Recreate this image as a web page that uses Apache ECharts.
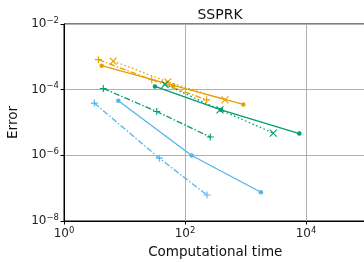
<!DOCTYPE html>
<html>
<head>
<meta charset="utf-8">
<script src="https://cdn.jsdelivr.net/npm/echarts@6/dist/echarts.min.js"></script>
<style>
  html, body { margin: 0; padding: 0; background: #fff; }
  #chart { width: 364px; height: 262px; }
</style>
</head>
<body>
<div id="chart"></div>
<script>
// SSPRK convergence: error vs computational time, [time, error] pairs
const orangeDot   = [[4.2, 5.36e-4], [64, 1.34e-4], [920, 3.54e-5]];
const orangePlus  = [[3.7, 8.2e-4], [28.2, 2.0e-4], [228, 4.9e-5]];
const orangeCross = [[6.5, 7.4e-4], [52, 1.74e-4], [458, 4.9e-5]];
const greenDot    = [[31.9, 1.25e-4], [394, 2.44e-5], [7750, 4.6e-6]];
const greenPlus   = [[4.46, 1.09e-4], [34.1, 2.16e-5], [262, 3.6e-6]];
const greenCross  = [[46.7, 1.46e-4], [379, 2.44e-5], [2880, 4.75e-6]];
const blueDot     = [[7.9, 4.6e-5], [129, 9.9e-7], [1800, 7.5e-8]];
const bluePlus    = [[3.17, 3.9e-5], [37.6, 8.2e-7], [231, 6.2e-8]];

const ORANGE = '#E69F00', GREEN = '#009E73', BLUE = '#56B4E9';
const PLUS = 'path://M0,5L10,5M5,0L5,10';
const CROSS = 'path://M0,0L10,10M0,10L10,0';
const DASHDOT = [6, 2, 1.5, 2];
const DOTTED = [1.5, 2.5];

function series(data, color, marker, lineType) {
    const sym = marker === 'dot' ? 'circle' : (marker === 'plus' ? PLUS : CROSS);
    return {
        type: 'line', data: data,
        symbol: sym, symbolSize: marker === 'dot' ? 4.5 : 7,
        showSymbol: true,
        lineStyle: { color: color, width: 1.3, type: lineType },
        itemStyle: { color: color, borderColor: color, borderWidth: marker === 'dot' ? 0 : 1.1 },
        z: 3
    };
}

function powLabel(v) {
    const e = Math.round(Math.log10(v));
    return '{b|10}{e|' + (e < 0 ? '\u2212' + (-e) : e) + '}';
}

const richTick = {
    b: { fontSize: 12, fontFamily: 'DejaVu Sans', color: '#222' },
    e: { fontSize: 8.5, fontFamily: 'DejaVu Sans', color: '#222', padding: [0, 0, 7, 0] }
};

const chart = echarts.init(document.getElementById('chart'), null, { renderer: 'canvas' });
chart.setOption({
    animation: false,
    backgroundColor: '#fff',
    title: {
        text: 'SSPRK', left: 215, top: 3, textAlign: 'center',
        textStyle: { fontFamily: 'DejaVu Sans', fontSize: 14, fontWeight: 'normal', color: '#111' }
    },
    grid: {
        left: 64, top: 24, width: 302.5, height: 197,
        outerBoundsMode: 'none', containLabel: false,
        show: true, borderColor: '#000', borderWidth: 1, backgroundColor: 'transparent'
    },
    xAxis: {
        type: 'log', logBase: 10, min: 1, max: 1e5, interval: 2,
        name: 'Computational time', nameLocation: 'middle', nameGap: 24,
        nameTextStyle: { fontFamily: 'DejaVu Sans', fontSize: 13.5, color: '#111' },
        axisLine: { lineStyle: { color: '#000', width: 1 } },
        axisTick: { show: true, length: 3.5, inside: false, lineStyle: { color: '#000' } },
        minorTick: { show: false },
        axisLabel: { formatter: powLabel, rich: richTick, margin: 5, showMaxLabel: false },
        splitLine: { show: true, lineStyle: { color: '#b0b0b0', width: 1 } }
    },
    yAxis: {
        type: 'log', logBase: 10, min: 1e-8, max: 1e-2, interval: 2,
        name: 'Error', nameLocation: 'middle', nameGap: 44,
        nameTextStyle: { fontFamily: 'DejaVu Sans', fontSize: 13.5, color: '#111' },
        axisLine: { show: true, lineStyle: { color: '#000', width: 1 } },
        axisTick: { show: true, length: 3.5, inside: false, lineStyle: { color: '#000' } },
        minorTick: { show: false },
        axisLabel: { formatter: powLabel, rich: richTick, margin: 5 },
        splitLine: { show: true, lineStyle: { color: '#b0b0b0', width: 1 } }
    },
    series: [
        series(orangeDot, ORANGE, 'dot', 'solid'),
        series(orangePlus, ORANGE, 'plus', DASHDOT),
        series(orangeCross, ORANGE, 'cross', DOTTED),
        series(greenDot, GREEN, 'dot', 'solid'),
        series(greenPlus, GREEN, 'plus', DASHDOT),
        series(greenCross, GREEN, 'cross', DOTTED),
        series(blueDot, BLUE, 'dot', 'solid'),
        series(bluePlus, BLUE, 'plus', DASHDOT)
    ]
});
</script>
</body>
</html>
